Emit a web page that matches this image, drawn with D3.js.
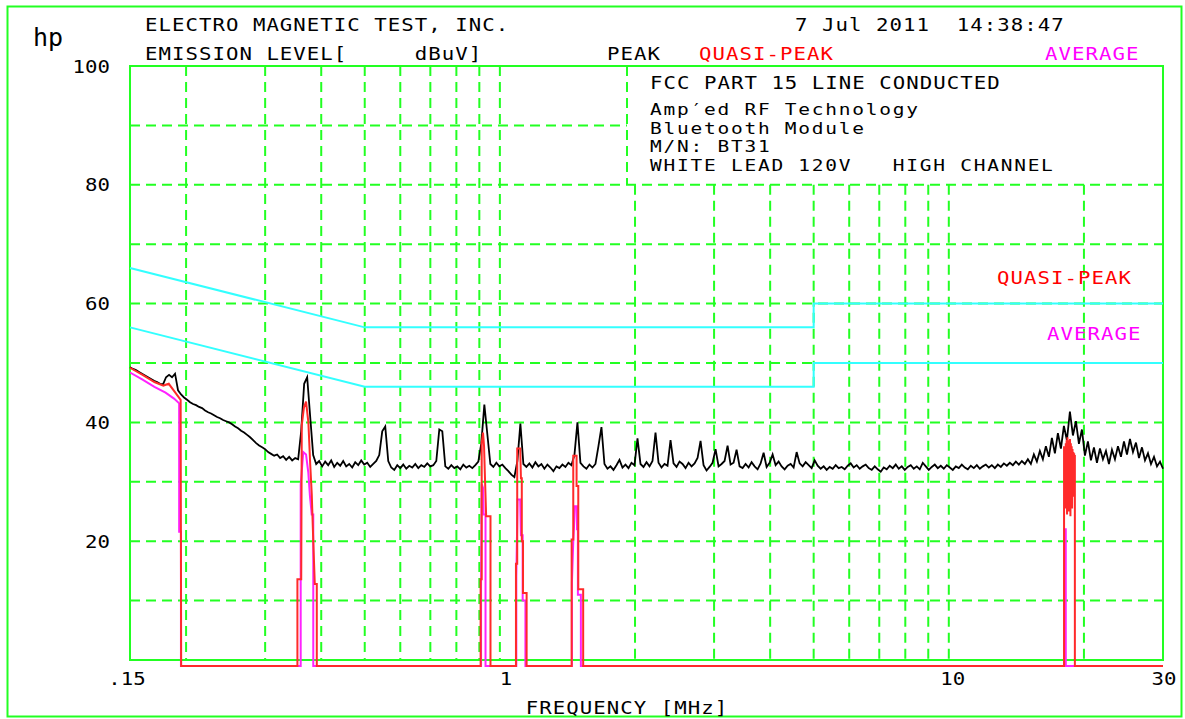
<!DOCTYPE html>
<html>
<head>
<meta charset="utf-8">
<script src="https://cdn.jsdelivr.net/npm/d3@7"></script>
<style>
  html, body { margin: 0; padding: 0; background: #fff; }
  svg { display: block; }
  text { font-family: "DejaVu Sans Mono", "Liberation Mono", monospace; white-space: pre; }
</style>
</head>
<body>
<svg id="chart" width="1185" height="719"></svg>
<script>
// Sweep span (MHz) and axis ticks
const sweepStart = 0.15, sweepStop = 30;
const levelTicks = [20, 40, 60, 80, 100];
const levelGrid = [10, 20, 30, 40, 50, 60, 70, 80, 90];
const freqGrid = [0.2, 0.3, 0.4, 0.5, 0.6, 0.7, 0.8, 0.9, 1, 2, 3, 4, 5, 6, 7, 8, 9, 10, 20];
const freqTickLabels = [[0.15, ".15"], [1, "1"], [10, "10"], [30, "30"]];

// FCC Part 15 conducted limits, dBuV
const qpLimit = [[0.15, 66], [0.5, 56], [5, 56], [5, 60], [30, 60]];
const avgLimit = [[0.15, 56], [0.5, 46], [5, 46], [5, 50], [30, 50]];

// Peak detector sweep, dBuV (evenly spaced in log frequency across the span)
const peakLevels = [
  49.3, 49.0, 48.8, 48.5, 48.2, 47.9, 47.6, 47.3, 47.0, 46.8,
  46.5, 46.4, 47.6, 48.0, 47.6, 48.2, 45.4, 44.7, 44.2, 43.8,
  43.4, 43.1, 42.9, 42.6, 42.4, 42.0, 41.7, 41.5, 41.2, 40.9,
  40.7, 40.4, 40.2, 40.0, 39.7, 39.3, 39.0, 38.6, 38.3, 37.9,
  37.5, 37.0, 36.5, 36.1, 35.8, 35.5, 35.0, 34.7, 34.4, 34.6,
  34.0, 34.3, 33.7, 34.2, 33.6, 34.0, 33.8, 38.5, 46.5, 47.6,
  41.0, 34.5, 33.0, 33.5, 32.6, 33.4, 32.8, 33.6, 32.5, 33.2,
  32.7, 33.5, 32.6, 33.0, 32.4, 33.3, 32.8, 33.6, 32.9, 33.2,
  32.5, 33.0, 33.5, 34.5, 38.5, 39.3, 33.5, 32.4, 32.0, 32.8,
  32.3, 32.9, 32.2, 32.7, 32.4, 33.0, 32.3, 32.8, 32.5, 33.1,
  32.6, 32.8, 33.5, 38.8, 38.5, 32.6, 32.2, 32.8, 32.3, 32.6,
  32.1, 32.9, 32.4, 32.7, 32.3, 32.8, 33.4, 36.5, 43.0, 38.0,
  33.0, 32.5, 33.2, 32.6, 32.9, 32.3, 31.8, 31.2, 30.8, 33.5,
  39.8, 33.0, 32.5, 33.1, 32.4, 33.3, 32.6, 33.0, 32.2, 32.9,
  32.4, 31.8, 32.6, 32.3, 32.9, 32.5, 33.2, 32.8, 34.5, 40.0,
  33.2, 32.6, 32.2, 32.9, 32.4, 33.0, 36.0, 39.2, 33.0, 32.2,
  32.6, 32.0, 32.8, 33.7, 32.4, 32.9, 32.3, 33.2, 32.8, 37.3,
  33.0, 32.5, 33.3, 32.6, 33.5, 38.3, 33.2, 32.4, 33.0, 32.7,
  37.0, 33.1, 32.5, 33.4, 33.0, 32.3, 33.2, 32.6, 33.1, 34.0,
  36.9, 32.8, 31.9, 32.5, 33.2, 35.5, 32.6, 33.0, 33.5, 36.1,
  32.9, 33.2, 35.4, 32.6, 32.3, 33.0, 32.4, 33.3, 32.6, 32.1,
  33.1, 34.9, 32.5, 33.2, 34.6, 32.8, 33.4, 32.6, 32.1, 32.7,
  33.0, 32.4, 35.0, 33.1, 32.6, 33.3, 32.8, 32.3, 33.6, 32.7,
  32.2, 32.6, 32.0, 32.5, 32.2, 32.8, 32.3, 32.5, 32.1, 32.7,
  33.1, 32.4, 32.8, 32.2, 32.6, 32.9, 32.3, 32.0, 32.6, 32.1,
  31.7, 32.4, 32.1, 32.7, 32.3, 32.9, 32.2, 32.6, 32.0, 32.5,
  32.8, 32.2, 32.6, 32.1, 33.2, 32.6, 32.0, 32.5, 32.9, 32.3,
  32.7, 32.2, 32.8, 32.4, 32.0, 32.6, 32.3, 32.9, 32.4, 32.1,
  32.7, 32.3, 32.8, 32.2, 32.6, 32.9, 32.4, 32.8, 32.3, 32.9,
  32.5, 33.1, 32.7, 33.2, 32.8, 33.4, 32.9, 33.5, 33.0, 33.8,
  33.0, 34.6, 33.4, 35.2, 33.8, 36.0, 34.2, 37.4, 34.8, 38.2,
  35.6, 39.4, 37.0, 41.8, 37.8, 40.2, 36.4, 38.8, 34.4, 36.8,
  33.6, 35.8, 33.2, 35.6, 33.8, 35.2, 33.0, 35.4, 33.8, 36.0,
  34.2, 36.8, 34.6, 37.2, 35.0, 36.6, 34.0, 35.8, 33.6, 34.8,
  33.0, 34.2, 32.6, 33.4, 32.2
];

// Quasi-peak readings [MHz, dBuV]; -1 marks "no reading" below the floor
const quasiPeakTrace = [
  [0.150, 49.2], [0.160, 48.0], [0.170, 46.8], [0.178, 46.2], [0.183, 46.5], [0.188, 45.3], [0.1945, 43.8], [0.1950, -1],
  [0.354, -1], [0.354, 13.6], [0.361, 13.6], [0.362, 39.5], [0.366, 42.5], [0.370, 43.5], [0.3745, 40.0], [0.378, 33.0],
  [0.381, 28.0], [0.384, 20.0], [0.387, 12.8], [0.391, 12.8], [0.391, -1],
  [0.906, -1], [0.906, 13.6], [0.911, 13.6], [0.911, 36.5], [0.917, 38.3], [0.922, 36.0], [0.927, 30.0], [0.932, 24.2],
  [0.953, 24.2], [0.953, -1],
  [1.086, -1], [1.086, 16.2], [1.093, 16.2], [1.093, 35.6], [1.110, 35.6], [1.114, 30.6], [1.119, 30.6], [1.119, 20.0],
  [1.126, 20.0], [1.126, 11.3], [1.147, 11.3], [1.147, -1],
  [1.445, -1], [1.445, 20.3], [1.457, 20.3], [1.457, 34.4], [1.482, 34.4], [1.482, 29.3], [1.495, 29.3], [1.495, 11.9],
  [1.533, 11.9], [1.533, -1],
  [18.06, -1], [18.06, 36.0], [18.10, 27.0], [18.14, 35.5], [18.18, 25.5], [18.22, 36.5], [18.26, 28.0], [18.30, 37.0],
  [18.34, 24.5], [18.38, 37.5], [18.42, 27.5], [18.46, 37.0], [18.50, 25.0], [18.54, 36.8], [18.58, 28.5], [18.62, 37.2],
  [18.66, 24.2], [18.70, 36.5], [18.74, 27.0], [18.78, 36.0], [18.82, 25.5], [18.86, 35.5], [18.90, 29.0], [18.94, 35.0],
  [18.98, 27.5], [19.02, 34.8], [19.06, 30.0], [19.09, 34.5], [19.09, -1], [30, -1]
];

// Average readings [MHz, dBuV]
const averageTrace = [
  [0.150, 48.4], [0.160, 47.2], [0.170, 46.0], [0.180, 45.0], [0.188, 44.0], [0.1930, 43.2], [0.1930, 21.6], [0.1948, 21.6], [0.1948, -1],
  [0.360, -1], [0.360, 29.5], [0.3648, 35.0], [0.370, 34.6], [0.3743, 31.6], [0.3776, 27.5], [0.381, 24.5], [0.384, 24.5], [0.384, -1],
  [0.908, -1], [0.908, 12.4], [0.911, 29.6], [0.917, 29.0], [0.920, 24.5], [0.929, 24.5], [0.929, -1],
  [1.088, -1], [1.088, 14.0], [1.095, 27.0], [1.110, 27.0], [1.114, 21.0], [1.124, 21.0], [1.124, 10.0], [1.140, 10.0], [1.140, -1],
  [1.447, -1], [1.447, 13.0], [1.457, 20.0], [1.470, 25.9], [1.485, 25.9], [1.485, 22.0], [1.492, 22.0], [1.492, 11.0], [1.515, 11.0], [1.515, -1],
  [18.10, -1], [18.10, 22.0], [18.22, 22.0], [18.22, -1], [30, -1]
];

// Header / annotation text
const headerLines = ["ELECTRO MAGNETIC TEST, INC.", "EMISSION LEVEL[     dBuV]"];
const stampText = "7 Jul 2011  14:38:47";
const boxTitle = "FCC PART 15 LINE CONDUCTED";
const boxLines = ["Amp\u2032ed RF Technology", "Bluetooth Module", "M/N: BT31", "WHITE LEAD 120V   HIGH CHANNEL"];

// ---- drawing ----
const GREEN = "#22ff22", CYAN = "#33ffff", RED = "#ff2a2a", MAGENTA = "#ff22ff";
const svg = d3.select("#chart");
svg.append("rect").attr("width", 1185).attr("height", 719).attr("fill", "#fff");

const x = d3.scaleLog().domain([sweepStart, sweepStop]).range([130, 1163]);
const y = d3.scaleLinear().domain([0, 100]).range([660, 66]);
const boxLeft = 627;

// outer frame
svg.append("rect").attr("x", 7.5).attr("y", 6.5).attr("width", 1174).attr("height", 710)
  .attr("fill", "none").attr("stroke", GREEN).attr("stroke-width", 2);

const grid = svg.append("g").attr("stroke", GREEN).attr("stroke-width", 2)
  .attr("stroke-dasharray", "10,6").attr("fill", "none");

// horizontal grid (the 90 dB line stops at the annotation box)
grid.selectAll("line.h").data(levelGrid).join("line").attr("class", "h")
  .attr("x1", x(sweepStart))
  .attr("x2", d => d > 80 ? boxLeft : x(sweepStop))
  .attr("y1", d => y(d)).attr("y2", d => y(d));

// vertical grid (lines right of the box start below it)
grid.selectAll("line.v").data(freqGrid).join("line").attr("class", "v")
  .attr("x1", d => x(d)).attr("x2", d => x(d))
  .attr("y1", d => x(d) > boxLeft ? y(80) : y(100))
  .attr("y2", y(0));

// annotation box left edge
grid.append("line").attr("x1", boxLeft).attr("x2", boxLeft).attr("y1", y(100)).attr("y2", y(80));

// plot frame
svg.append("rect").attr("x", x(sweepStart)).attr("y", y(100))
  .attr("width", x(sweepStop) - x(sweepStart)).attr("height", y(0) - y(100))
  .attr("fill", "none").attr("stroke", GREEN).attr("stroke-width", 2);

// limit lines
const line = d3.line().x(d => x(d[0])).y(d => y(d[1]));
[qpLimit, avgLimit].forEach(lim => {
  svg.append("path").attr("d", line(lim)).attr("fill", "none")
    .attr("stroke", CYAN).attr("stroke-width", 2);
});

// peak sweep
const n = peakLevels.length;
const sweepFreq = d3.range(n).map(i => sweepStart * Math.pow(sweepStop / sweepStart, i / (n - 1)));
svg.append("path").attr("d", line(peakLevels.map((v, i) => [sweepFreq[i], v])))
  .attr("fill", "none").attr("stroke", "#000").attr("stroke-width", 1.8)
  .attr("stroke-linejoin", "miter");

// average and quasi-peak readings
svg.append("path").attr("d", line(averageTrace)).attr("fill", "none")
  .attr("stroke", MAGENTA).attr("stroke-width", 2);
svg.append("path").attr("d", line(quasiPeakTrace)).attr("fill", "none")
  .attr("stroke", RED).attr("stroke-width", 2);

// text helper: monospaced, stretched horizontally to the plotter's 13.5 px pitch
function label(txt, px, py, opts = {}) {
  const size = opts.size || 18;
  const sx = opts.sx || 1.15;
  const pitch = opts.pitch || 13.5;
  const ls = opts.ls != null ? opts.ls : (pitch / sx - size * 0.602);
  return svg.append("text")
    .attr("transform", `translate(${px},${py}) scale(${sx},1)`)
    .attr("font-size", size)
    .attr("letter-spacing", ls)
    .attr("fill", opts.color || "#000")
    .attr("text-anchor", opts.anchor || "start")
    .text(txt);
}

label("hp", 33, 46, { size: 25, sx: 1, ls: 0 });
label(headerLines[0], 145, 31);
label(headerLines[1], 145, 60);
label(stampText, 795, 31);
label("PEAK", 607, 60);
label("QUASI-PEAK", 699, 60, { color: "#ff0000" });
label("AVERAGE", 1045, 60, { color: "#ff00ff" });

label(boxTitle, 650, 89);
boxLines.forEach((t, i) => label(t, 650, [115, 133.5, 151.5, 171][i], { size: 15, sx: 1.3 }));

label("QUASI-PEAK", 997, 284, { color: "#ff0000" });
label("AVERAGE", 1047, 340, { color: "#ff00ff" });

// level axis labels
levelTicks.forEach(v => label(String(v), 110, y(v) + 6.5, { anchor: "end", pitch: 12.5 }));

// frequency axis labels
const tickNudge = { ".15": -3, "1": 6, "10": 4, "30": 1 };
freqTickLabels.forEach(([f, t]) => label(t, x(f) + tickNudge[t], 685, { anchor: "middle", pitch: 12.5 }));

label("FREQUENCY [MHz]", 627, 714, { anchor: "middle" });
</script>
</body>
</html>
